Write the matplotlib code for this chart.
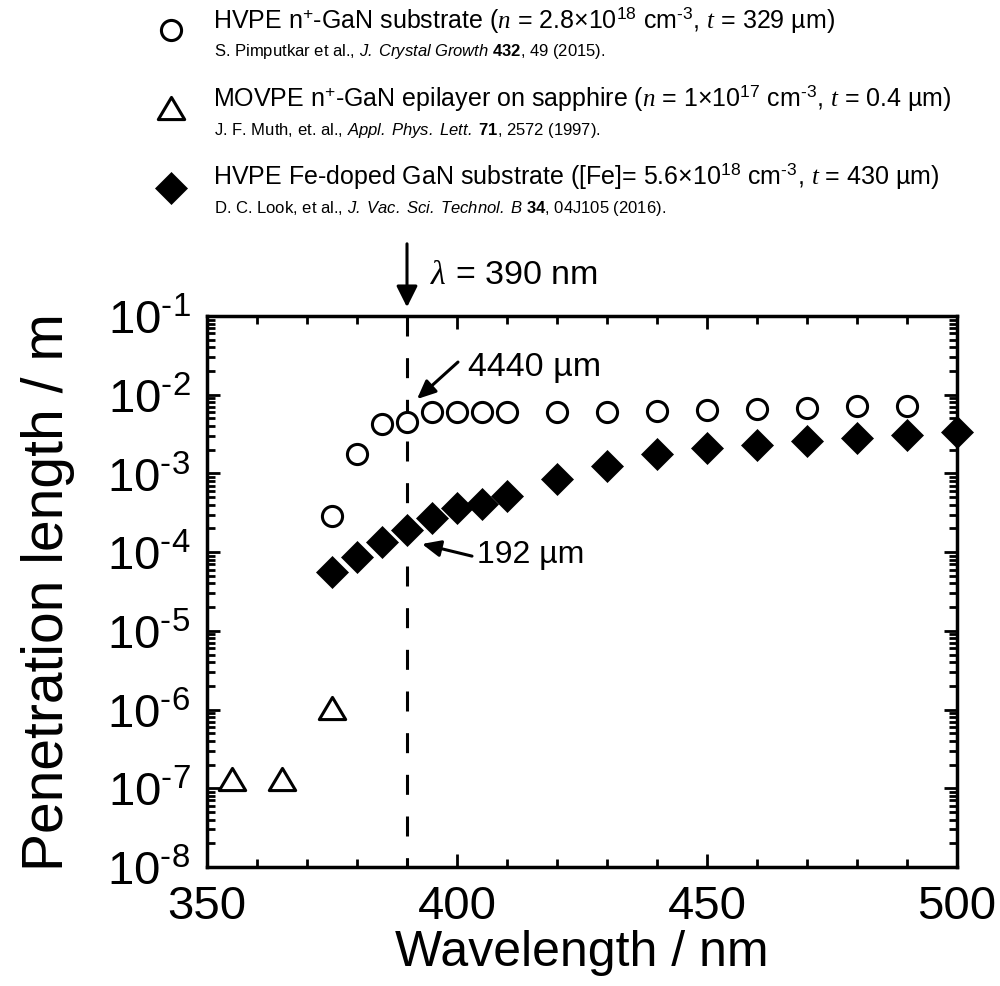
import matplotlib
matplotlib.use("Agg")
import matplotlib.pyplot as plt
from matplotlib.lines import Line2D
from matplotlib.path import Path
from matplotlib.ticker import FixedLocator, LogLocator, NullFormatter, MultipleLocator

plt.rcParams["font.family"] = ["Liberation Sans", "DejaVu Sans"]
plt.rcParams["mathtext.fontset"] = "custom"
plt.rcParams["mathtext.rm"] = "Liberation Sans"
plt.rcParams["mathtext.it"] = "Liberation Serif:italic"
plt.rcParams["mathtext.bf"] = "Liberation Sans:bold"
plt.rcParams["mathtext.sf"] = "Liberation Sans:italic"

# HVPE n+-GaN substrate (Pimputkar et al.)
wl_nplus = [375, 380, 385, 390, 395, 400, 405, 410, 420, 430, 440, 450, 460, 470, 480, 490]
pl_nplus = [2.9e-4, 1.78e-3, 4.2e-3, 4.44e-3, 6.0e-3, 6.0e-3, 6.0e-3, 6.0e-3,
            6.0e-3, 6.1e-3, 6.2e-3, 6.4e-3, 6.6e-3, 6.8e-3, 7.1e-3, 7.2e-3]

# MOVPE n+-GaN epilayer on sapphire (Muth et al.)
wl_epi = [355, 365, 375]
pl_epi = [1.3e-7, 1.3e-7, 1.05e-6]

# HVPE Fe-doped GaN substrate (Look et al.)
wl_fe = [375, 380, 385, 390, 395, 400, 405, 410, 420, 430, 440, 450, 460, 470, 480, 490, 500]
pl_fe = [5.6e-5, 8.7e-5, 1.35e-4, 1.92e-4, 2.7e-4, 3.6e-4, 4.1e-4, 5.2e-4, 8.5e-4,
         1.25e-3, 1.75e-3, 2.1e-3, 2.3e-3, 2.6e-3, 2.8e-3, 3.1e-3, 3.4e-3]

x_ticks = [350, 400, 450, 500]
y_exponents = [-8, -7, -6, -5, -4, -3, -2, -1]

W, H = 1000, 987
fig = plt.figure(figsize=(W / 100, H / 100), dpi=100)


def fpos(x, y):
    return x / W, 1 - y / H


ax_left, ax_top, ax_right, ax_bottom = 207, 317, 957, 868
ax = fig.add_axes([ax_left / W, 1 - ax_bottom / H, (ax_right - ax_left) / W,
                   (ax_bottom - ax_top) / H])

# marker shapes: a closed, slightly flattened open triangle
tri = Path([(-1, -0.84), (1, -0.84), (0, 0.84), (-1, -0.84)],
           [Path.MOVETO, Path.LINETO, Path.LINETO, Path.CLOSEPOLY])
circ_kw = dict(marker="o", ms=14.5, mfc="white", mec="black", mew=2.2, ls="none")
tri_kw = dict(marker=tri, ms=19, mfc="white", mec="black", mew=2.2, ls="none")
dia_kw = dict(marker="D", ms=16.5, mfc="black", mec="black", mew=0.5, ls="none")

ax.set_yscale("log")
ax.set_xlim(350, 500)
ax.set_ylim(1e-8, 1e-1)

# wavelength marker line
ax.plot([390, 390], [1e-1, 1e-8], color="black", lw=2.2,
        ls=(0, (14.4 / 2.2, 15.6 / 2.2)), zorder=1)

ax.plot(wl_nplus, pl_nplus, zorder=3, clip_on=False, **circ_kw)
ax.plot(wl_epi, pl_epi, zorder=3, clip_on=False, **tri_kw)
ax.plot(wl_fe, pl_fe, zorder=3, clip_on=False, **dia_kw)

# ticks
ax.xaxis.set_major_locator(FixedLocator(x_ticks))
ax.xaxis.set_minor_locator(MultipleLocator(10))
ax.set_xticklabels([str(v) for v in x_ticks])
ax.yaxis.set_major_locator(FixedLocator([10.0 ** e for e in y_exponents]))
ax.yaxis.set_minor_locator(LogLocator(base=10, subs=range(2, 10), numticks=50))
ax.yaxis.set_minor_formatter(NullFormatter())
ax.set_yticklabels([r"$\mathregular{10^{\text{-}%d}}$" % -e for e in y_exponents])

ax.tick_params(which="both", direction="in", top=True, right=True, width=2,
               labelsize=34)
ax.tick_params(which="major", length=9.5)
ax.tick_params(which="minor", length=5.5)
ax.tick_params(axis="x", pad=12)
ax.tick_params(axis="y", pad=12)
for s in ax.spines.values():
    s.set_linewidth(2.5)

ax.set_xlabel("Wavelength / nm", fontsize=36, va="top")
ax.set_ylabel("Penetration length / m", fontsize=41, va="center")
ax.xaxis.set_label_coords(0.5, -0.112)
ax.yaxis.set_label_coords(-0.212, 0.5)

# annotations
ax.annotate("", xy=(390, 1.016), xytext=(390, 1.131),
            xycoords=("data", "axes fraction"), textcoords=("data", "axes fraction"),
            arrowprops=dict(arrowstyle="-|>", mutation_scale=32, lw=2.2, color="black",
                            shrinkA=0, shrinkB=0))
ax.text(394.6, 1.076, r"$\lambda$ = 390 nm", transform=ax.get_xaxis_transform(),
        fontsize=24.5, va="center", ha="left")

ax.annotate("", xy=(392, 8.8e-3), xytext=(400.2, 2.6e-2),
            arrowprops=dict(arrowstyle="-|>,head_length=0.45,head_width=0.2",
                            mutation_scale=25, lw=2.2, color="black",
                            shrinkA=0, shrinkB=0))
ax.text(402.2, 2.25e-2, "4440 µm", fontsize=24.5, va="center", ha="left")

ax.annotate("", xy=(393, 1.27e-4), xytext=(403, 8.9e-5),
            arrowprops=dict(arrowstyle="-|>,head_length=0.45,head_width=0.2",
                            mutation_scale=25, lw=2.2, color="black",
                            shrinkA=0, shrinkB=0))
ax.text(404, 9.5e-5, "192 µm", fontsize=23, va="center", ha="left")

# legend block above the axes
entries = [
    (circ_kw, 31,
     r"HVPE n$^{+}$-GaN substrate ($\mathit{n}$ = 2.8×10$^{18}$ cm$^{\text{-}3}$, $\mathit{t}$ = 329 µm)",
     28,
     r"S. Pimputkar et al., $\mathsf{J.\ Crystal\ Growth}$ $\mathbf{432}$, 49 (2015).",
     56),
    (tri_kw, 109,
     r"MOVPE n$^{+}$-GaN epilayer on sapphire ($\mathit{n}$ = 1×10$^{17}$ cm$^{\text{-}3}$, $\mathit{t}$ = 0.4 µm)",
     106,
     r"J. F. Muth, et. al., $\mathsf{Appl.\ Phys.\ Lett.}$ $\mathbf{71}$, 2572 (1997).",
     135),
    (dia_kw, 189,
     r"HVPE Fe-doped GaN substrate ([Fe]= 5.6×10$^{18}$ cm$^{\text{-}3}$, $\mathit{t}$ = 430 µm)",
     184,
     r"D. C. Look, et al., $\mathsf{J.\ Vac.\ Sci.\ Technol.\ B}$ $\mathbf{34}$, 04J105 (2016).",
     213),
]
for kw, my, main, mb, sub, sb in entries:
    mx, myf = fpos(171, my)
    fig.add_artist(Line2D([mx], [myf], transform=fig.transFigure, **kw))
    fig.text(*fpos(213, mb), main, fontsize=18, va="baseline", ha="left")
    fig.text(*fpos(214, sb), sub, fontsize=12, va="baseline", ha="left")

fig.savefig("out.png", dpi=100)
